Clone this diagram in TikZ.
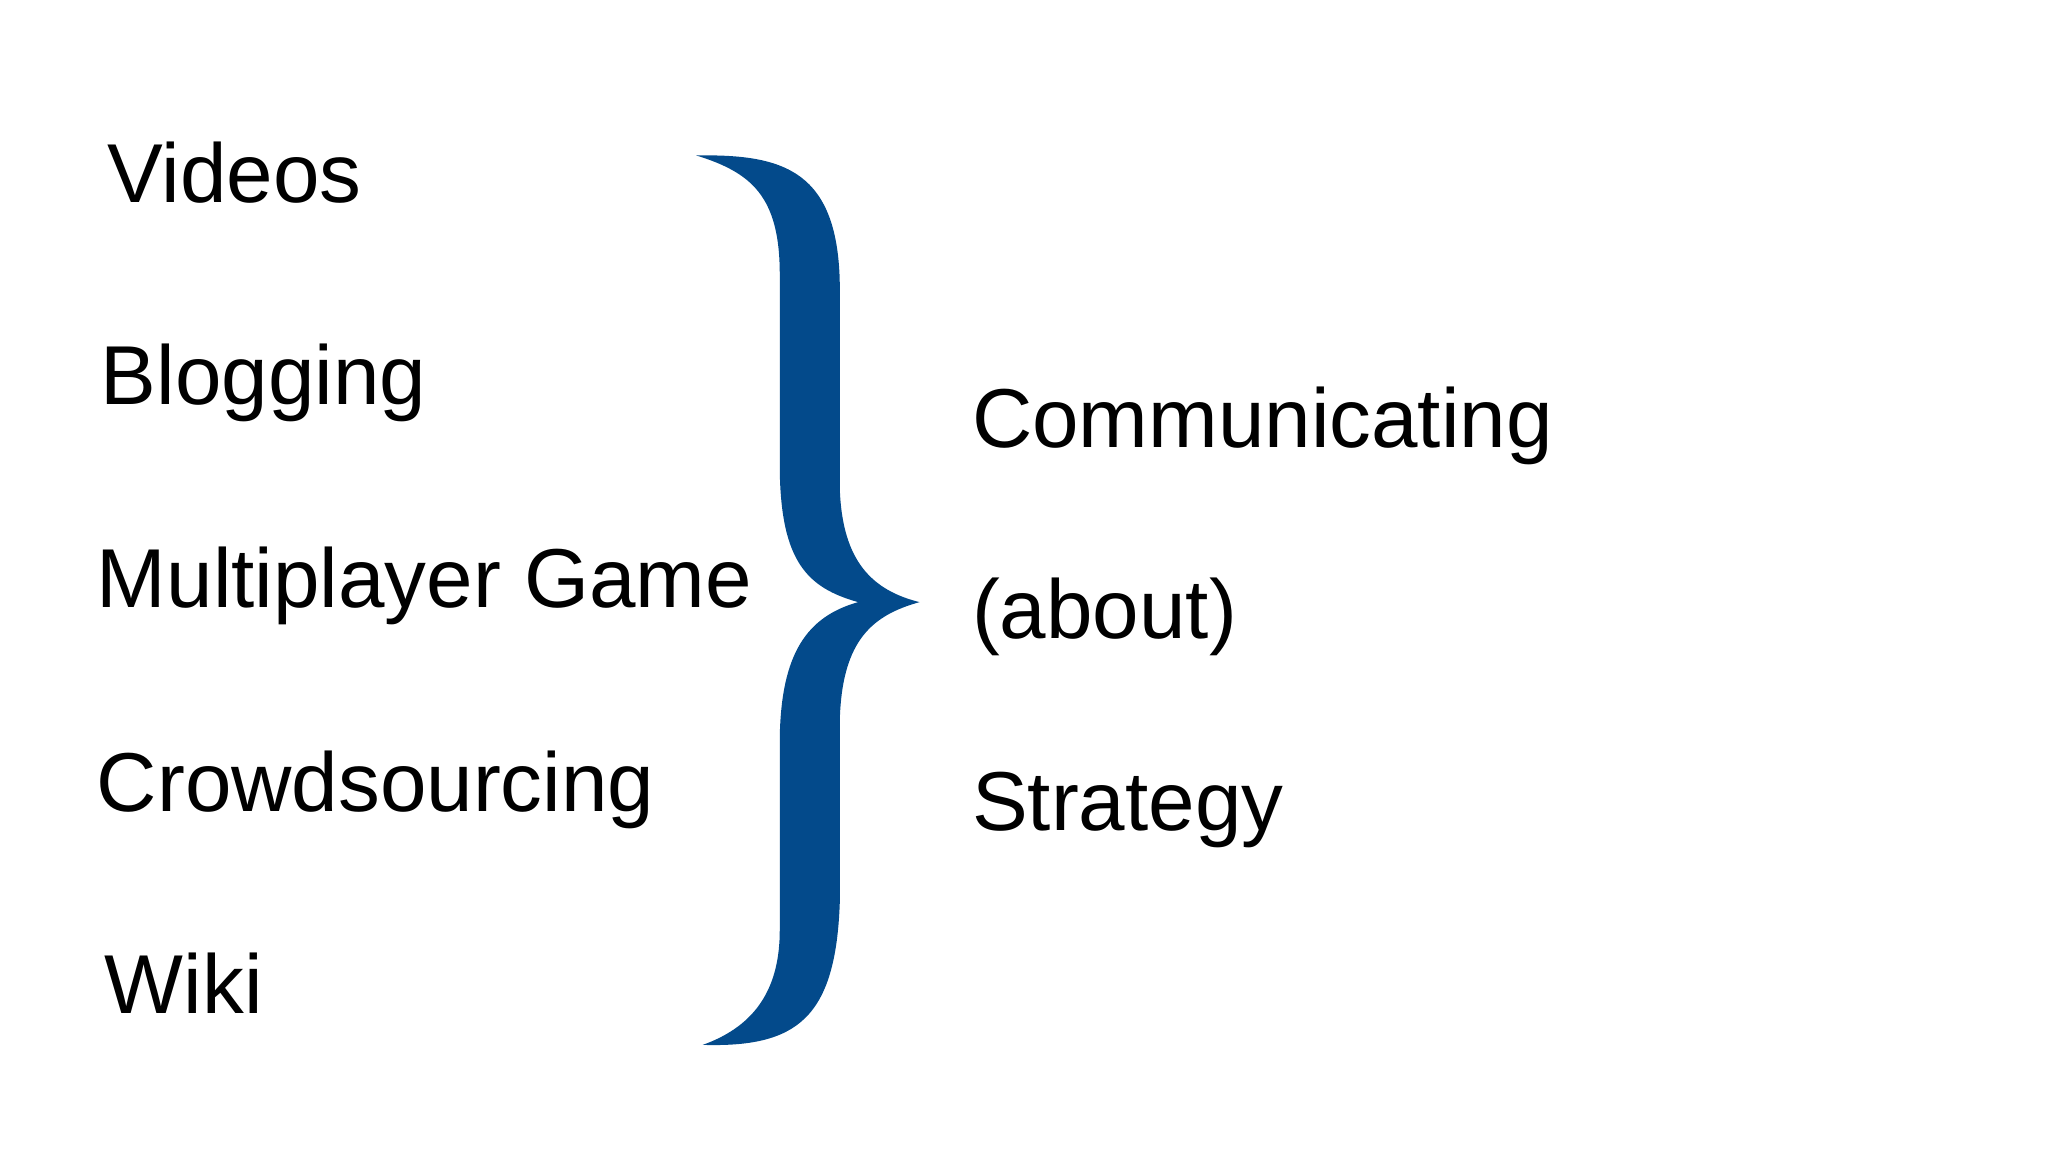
\documentclass[tikz,border=0pt]{standalone}
\usepackage{fontspec}
\setmainfont{Liberation Sans}
\definecolor{bracec}{HTML}{034A8B}
\begin{document}
\begin{tikzpicture}[x=1pt,y=-1pt,
  lbl/.style={anchor=base west,inner sep=0pt,font=\fontsize{64}{70}\selectfont}]
\useasboundingbox (0,0) rectangle (1568,882);
\fill[white] (0,0) rectangle (1568,882);
\node[lbl] (v) at (82,155) {Videos};
\node[lbl] (b) at (77,310) {Blogging};
\node[lbl] (m) at (74,465) {Multiplayer Game};
\node[lbl] (c) at (74,621) {Crowdsourcing};
\node[lbl] (w) at (80,776) {Wiki};
\node[lbl] (co) at (744,343) {Communicating};
\node[lbl] (ab) at (744,489) {(about)};
\node[lbl] (st) at (744,636) {Strategy};
\fill[bracec] (533,119) .. controls (600,118) and (643,130) .. (643,222) -- (643,375)
 .. controls (645,430) and (668,452) .. (704,461) .. controls (668,471) and (645,490) .. (643,550)
 -- (643,690) .. controls (640,780) and (610,802) .. (538,800)
 .. controls (580,785) and (597,755) .. (597,712) -- (597,565)
 .. controls (598,500) and (618,472) .. (657,461) .. controls (618,450) and (598,430) .. (597,360)
 -- (597,210) .. controls (597,150) and (575,132) .. (533,119) -- cycle;
\end{tikzpicture}
\end{document}
